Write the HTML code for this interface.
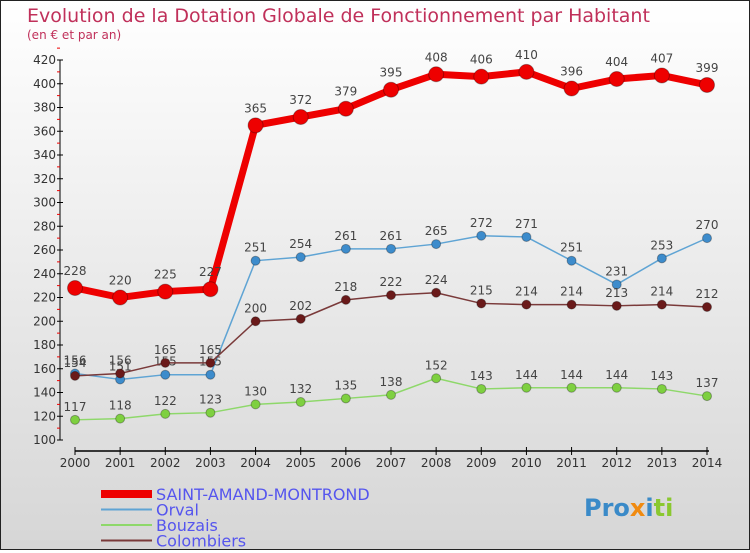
<!DOCTYPE html>
<html><head><meta charset="utf-8"><style>
body{margin:0;width:750px;height:550px;overflow:hidden;font-family:"DejaVu Sans","Liberation Sans",sans-serif;}
#wrap{position:relative;width:748px;height:548px;border:1px solid #222;background:linear-gradient(#fff,#d6d6d6);}
</style></head><body>
<div id="wrap">
<svg id="chart" width="748" height="548"></svg>
</div>
<script>
const years=[2000,2001,2002,2003,2004,2005,2006,2007,2008,2009,2010,2011,2012,2013,2014];
const saint=[228,220,225,227,365,372,379,395,408,406,410,396,404,407,399];
const orval=[156,151,155,155,251,254,261,261,265,272,271,251,231,253,270];
const bouzais=[117,118,122,123,130,132,135,138,152,143,144,144,144,143,137];
const colombiers=[154,156,165,165,200,202,218,222,224,215,214,214,213,214,212];
const yTicks=[100,120,140,160,180,200,220,240,260,280,300,320,340,360,380,400,420];
const NS='http://www.w3.org/2000/svg';
const svg=document.getElementById('chart');
const X=i=>74+i*(632/14);
const Y=v=>439-(v-100)*(380/320);
function mk(t,a,p){const e=document.createElementNS(NS,t);for(const k in a)e.setAttribute(k,a[k]);(p||svg).appendChild(e);return e;}
let t=mk('text',{x:26,y:21,'font-size':19,fill:'#c0305a'});t.textContent='Evolution de la Dotation Globale de Fonctionnement par Habitant';


t=mk('text',{x:26,y:38,'font-size':12,fill:'#c0305a'});t.textContent='(en € et par an)';


// axes
let a=mk('line',{x1:59,y1:Y(420),x2:59,y2:Y(100),stroke:'#000'});


yTicks.forEach(v=>{mk('line',{x1:56,x2:62,y1:Y(v),y2:Y(v),stroke:'#000'});
mk('line',{x1:56,x2:59,y1:Y(v+10),y2:Y(v+10),stroke:'#e00'});
const l=mk('text',{x:55,y:Y(v)+4,'text-anchor':'end','font-size':12,fill:'#333'});l.textContent=v;

});
a=mk('line',{x1:X(0),y1:450,x2:X(14)+2,y2:450,stroke:'#000','stroke-width':1.5});


years.forEach((yr,i)=>{mk('line',{x1:X(i),x2:X(i),y1:446,y2:454,stroke:'#000'});
const l=mk('text',{x:X(i),y:466,'text-anchor':'middle','font-size':12,fill:'#333'});l.textContent=yr;

});
function series(vals,color,w,r,dot,name,dy){
 const g=mk('g',{});
 
 
 mk('polyline',{points:vals.map((v,i)=>X(i)+','+Y(v)).join(' '),fill:'none',stroke:color,'stroke-width':w,'stroke-linejoin':'round'},g);
 vals.forEach((v,i)=>{const c=mk('circle',{cx:X(i),cy:Y(v),r:r,fill:dot,stroke:'rgba(0,0,0,0.3)'},g);
 
 
 const l=mk('text',{x:X(i),y:Y(v)-dy,'text-anchor':'middle','font-size':12,fill:'#444'},g);l.textContent=v;
 
 });
}
series(bouzais,'#8ed86a',1.5,4.5,'#7ed040','bouzais',9);
series(orval,'#5fa4d4',1.5,4.5,'#3d8ccc','orval',9);
series(colombiers,'#7a3a3a',1.5,4.5,'#6a1a1a','colombiers',9);
series(saint,'#ee0000',7,7.5,'#ee0000','saint-amand',13);
// legend
const leg=[['SAINT-AMAND-MONTROND','#ee0000',8],['Orval','#5fa4d4',2],['Bouzais','#8ed86a',2],['Colombiers','#7a3a3a',2]];
leg.forEach((e,i)=>{const y=493+i*15.5;const g=mk('g',{});


mk('line',{x1:100,x2:151,y1:y,y2:y,stroke:e[1],'stroke-width':e[2]},g);
const l=mk('text',{x:155,y:y+6,'font-size':16,fill:'#5555ee'},g);l.textContent=e[0];});
// logo
t=mk('text',{x:583,y:515,'font-size':24,'font-weight':'bold',fill:'#3a8ac8'});
t.innerHTML='<tspan fill="#3a8ac8">Pro</tspan><tspan fill="#f08a10">x</tspan><tspan fill="#3a8ac8">i</tspan><tspan fill="#8ac830">ti</tspan>';


</script>
</body></html>
